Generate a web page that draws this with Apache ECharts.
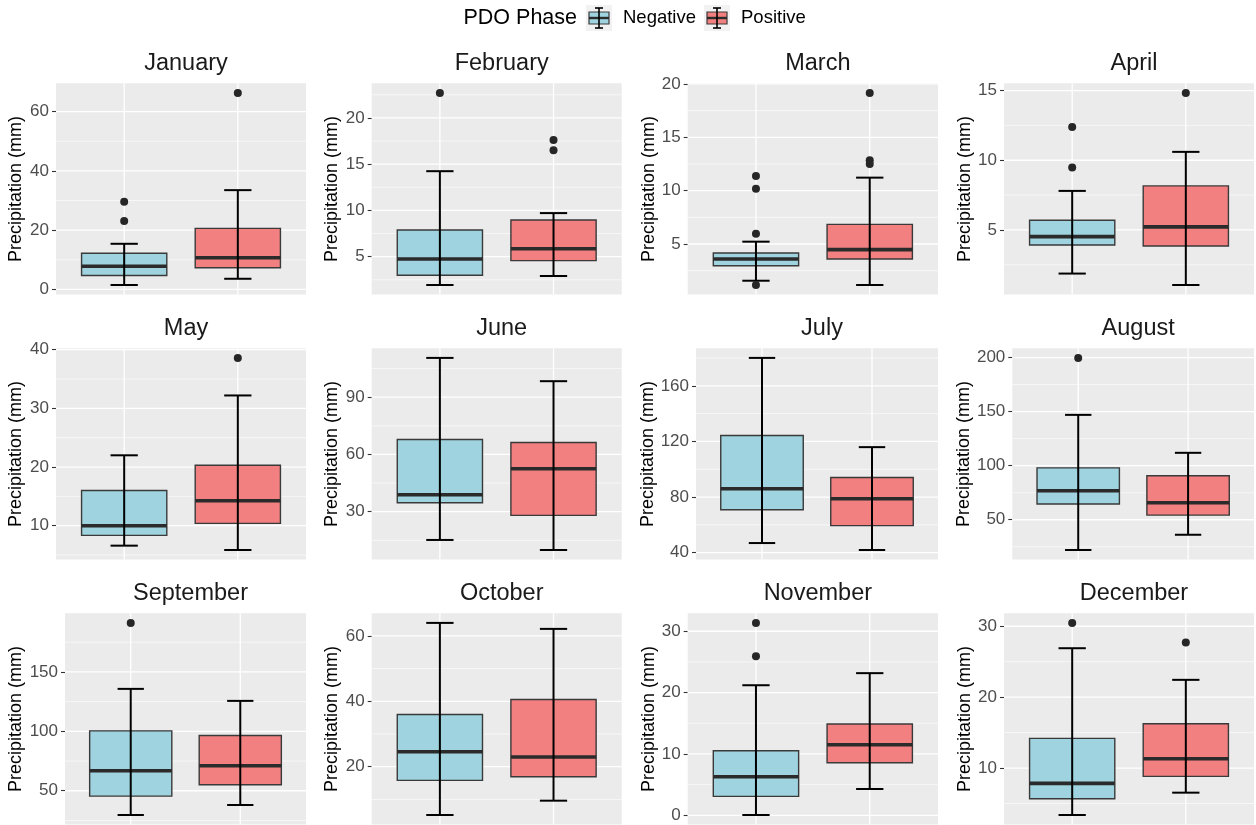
<!DOCTYPE html>
<html>
<head>
<meta charset="utf-8">
<title>Monthly precipitation by PDO phase</title>
<script src="https://cdn.jsdelivr.net/npm/echarts@6/dist/echarts.min.js"></script>
<style>
  html, body { margin: 0; padding: 0; background: #ffffff; }
  #chart { width: 1256px; height: 825px; }
</style>
</head>
<body>
<div id="chart"></div>
<script>
// ---- data -------------------------------------------------------------
const months = ['January', 'February', 'March', 'April', 'May', 'June',
                'July', 'August', 'September', 'October', 'November', 'December'];
const phases = ['Negative', 'Positive'];

// [lower whisker, Q1, median, Q3, upper whisker] per month
const negBox = [
  [1.5, 4.7, 7.8, 12.2, 15.4],
  [1.94, 2.99, 4.75, 7.88, 14.24],
  [1.56, 2.97, 3.59, 4.16, 5.22],
  [1.87, 3.92, 4.52, 5.69, 7.8],
  [6.6, 8.36, 10.0, 16.01, 22.0],
  [15.2, 34.7, 38.9, 67.85, 110.6],
  [46.9, 70.9, 86.0, 124.3, 180.1],
  [22.0, 64.5, 76.8, 98.0, 147.0],
  [29.6, 45.5, 66.8, 100.4, 135.7],
  [5.24, 15.83, 24.58, 35.98, 63.97],
  [0.05, 3.09, 6.29, 10.53, 21.2],
  [3.38, 5.68, 7.84, 14.18, 26.9]
];
const posBox = [
  [3.6, 7.3, 10.7, 20.6, 33.5],
  [2.91, 4.57, 5.86, 8.96, 9.71],
  [1.16, 3.59, 4.47, 6.84, 11.22],
  [1.05, 3.85, 5.22, 8.16, 10.6],
  [5.86, 10.4, 14.25, 20.3, 32.2],
  [9.94, 28.1, 52.5, 66.3, 98.4],
  [41.9, 59.4, 78.8, 94.1, 115.9],
  [36.1, 54.3, 65.7, 90.7, 111.9],
  [38.0, 55.0, 71.0, 96.5, 125.6],
  [9.62, 16.95, 22.95, 40.56, 62.14],
  [4.29, 8.57, 11.5, 14.87, 23.17],
  [6.53, 8.83, 11.31, 16.24, 22.44]
];
const negOutliers = [
  [29.6, 23.1], [22.7], [11.38, 10.19, 5.97, 1.16], [12.39, 9.47],
  [], [], [], [199.7], [191.2], [], [31.36, 25.94], [30.47]
];
const posOutliers = [
  [66.3], [17.6, 16.5], [19.16, 12.85, 12.5], [14.83],
  [38.6], [], [], [], [], [], [], [27.7]
];
const yTicks = [
  [0, 20, 40, 60], [5, 10, 15, 20], [5, 10, 15, 20], [5, 10, 15],
  [10, 20, 30, 40], [30, 60, 90], [40, 80, 120, 160], [50, 100, 150, 200],
  [50, 100, 150], [20, 40, 60], [0, 10, 20, 30], [10, 20, 30]
];

// ---- layout -----------------------------------------------------------
const rowTop = [83.3, 348.3, 613.3];
const panelH = 211.3;
const panelLeft = [
  [56, 371.7, 687.7, 1004],
  [56, 371.7, 696, 1012.3],
  [65, 371.7, 687.7, 1004]
];
const panelRight = [306, 621.7, 938, 1254];
const yNameRight = [25, 341, 658, 974];

const FONT = '"Liberation Sans", Arial, Helvetica, sans-serif';
const FILL = { Negative: '#9ED3DF', Positive: '#F28080' };
const PANEL_BG = '#EBEBEB';

function yRange(i) {
  const vals = negBox[i].concat(posBox[i], negOutliers[i], posOutliers[i]);
  const lo = Math.min(...vals), hi = Math.max(...vals);
  const pad = (hi - lo) * 0.05;
  return [lo - pad, hi + pad];
}

function renderGridLine(params, api) {
  const cs = params.coordSys;
  const kind = api.value(0), v = api.value(1), major = api.value(2);
  const w = major ? 1.3 : 0.6;
  if (kind === 0) {
    const y = api.coord([1, v])[1];
    return { type: 'line', silent: true,
      shape: { x1: cs.x, y1: y, x2: cs.x + cs.width, y2: y },
      style: { stroke: '#FFFFFF', lineWidth: w } };
  }
  const x = api.coord([v, api.value(3)])[0];
  return { type: 'line', silent: true,
    shape: { x1: x, y1: cs.y, x2: x, y2: cs.y + cs.height },
    style: { stroke: '#FFFFFF', lineWidth: w } };
}

function renderBox(params, api) {
  const x = api.value(0);
  const fill = x === 1 ? FILL.Negative : FILL.Positive;
  const lo = api.coord([x, api.value(1)]);
  const q1 = api.coord([x, api.value(2)]);
  const md = api.coord([x, api.value(3)]);
  const q3 = api.coord([x, api.value(4)]);
  const hi = api.coord([x, api.value(5)]);
  const bw = api.size([0.75, 0])[0];
  const cw = api.size([0.24, 0])[0];
  const cx = lo[0];
  return {
    type: 'group',
    children: [
      { type: 'rect', shape: { x: cx - bw / 2, y: q3[1], width: bw, height: q1[1] - q3[1] },
        style: { fill: fill, stroke: '#3A3A3A', lineWidth: 1.4 } },
      { type: 'line', shape: { x1: cx - bw / 2, y1: md[1], x2: cx + bw / 2, y2: md[1] },
        style: { stroke: '#2B2B2B', lineWidth: 3.6 } },
      { type: 'line', shape: { x1: cx, y1: hi[1], x2: cx, y2: lo[1] },
        style: { stroke: '#000000', lineWidth: 2 } },
      { type: 'line', shape: { x1: cx - cw / 2, y1: hi[1], x2: cx + cw / 2, y2: hi[1] },
        style: { stroke: '#000000', lineWidth: 2 } },
      { type: 'line', shape: { x1: cx - cw / 2, y1: lo[1], x2: cx + cw / 2, y2: lo[1] },
        style: { stroke: '#000000', lineWidth: 2 } }
    ]
  };
}

const grids = [], xAxes = [], yAxes = [], series = [], titles = [];

months.forEach((m, i) => {
  const r = Math.floor(i / 4), c = i % 4;
  const left = panelLeft[r][c], right = panelRight[c];
  const [ymin, ymax] = yRange(i);
  const ticks = yTicks[i];
  const step = ticks.length > 1 ? ticks[1] - ticks[0] : 10;

  grids.push({
    left: left, top: rowTop[r], width: right - left, height: panelH,
    show: true, backgroundColor: PANEL_BG, borderWidth: 0, containLabel: false
  });

  xAxes.push({
    gridIndex: i, type: 'value', min: 0.4, max: 2.6,
    axisLine: { show: false }, axisTick: { show: false },
    axisLabel: { show: false }, splitLine: { show: false }
  });

  yAxes.push({
    gridIndex: i, type: 'value', min: ymin, max: ymax,
    name: 'Precipitation (mm)', nameLocation: 'middle',
    nameGap: left - yNameRight[c], nameRotate: 90,
    nameTextStyle: { fontFamily: FONT, fontSize: 18, color: '#000000' },
    axisLine: { show: false },
    axisTick: { show: true, length: 4, customValues: ticks,
                lineStyle: { color: '#333333', width: 1.1 } },
    axisLabel: { show: true, customValues: ticks, margin: 7,
                 fontFamily: FONT, fontSize: 17, color: '#4D4D4D',
                 formatter: v => String(v) },
    splitLine: { show: false }, minorSplitLine: { show: false }
  });

  // white panel grid: majors, minors (half-steps) and category verticals
  const gl = [];
  ticks.forEach(t => gl.push([0, t, 1, 0]));
  const minors = [];
  for (let t = ticks[0] - step / 2; t <= ymax; t += step) {
    if (t >= ymin && t <= ymax) minors.push(t);
  }
  minors.forEach(t => gl.push([0, t, 0, 0]));
  [1, 2].forEach(x => gl.push([1, x, 1, (ymin + ymax) / 2]));

  series.push({
    type: 'custom', xAxisIndex: i, yAxisIndex: i, z: 1, silent: true,
    renderItem: renderGridLine, data: gl
  });

  series.push({
    type: 'custom', name: m, xAxisIndex: i, yAxisIndex: i, z: 2,
    renderItem: renderBox,
    data: [[1].concat(negBox[i]), [2].concat(posBox[i])]
  });

  const pts = negOutliers[i].map(v => [1, v]).concat(posOutliers[i].map(v => [2, v]));
  series.push({
    type: 'scatter', xAxisIndex: i, yAxisIndex: i, z: 3,
    symbol: 'circle', symbolSize: 8,
    itemStyle: { color: '#262626', opacity: 1 },
    data: pts
  });

  titles.push({
    text: m, left: (left + right) / 2, top: rowTop[r] - 37, textAlign: 'center',
    textStyle: { fontFamily: FONT, fontSize: 23.5, fontWeight: 'normal', color: '#1A1A1A' }
  });
});

// ---- legend -----------------------------------------------------------
function legendKey(x, y, fill) {
  return [
    { type: 'rect', shape: { x: x, y: y, width: 26, height: 26 }, style: { fill: '#F2F2F2' } },
    { type: 'rect', shape: { x: x + 3, y: y + 7, width: 20, height: 12 },
      style: { fill: fill, stroke: '#3A3A3A', lineWidth: 1.2 } },
    { type: 'line', shape: { x1: x + 3, y1: y + 13, x2: x + 23, y2: y + 13 },
      style: { stroke: '#2B2B2B', lineWidth: 2.4 } },
    { type: 'line', shape: { x1: x + 13, y1: y + 3, x2: x + 13, y2: y + 23 },
      style: { stroke: '#000000', lineWidth: 1.6 } },
    { type: 'line', shape: { x1: x + 9, y1: y + 3, x2: x + 17, y2: y + 3 },
      style: { stroke: '#000000', lineWidth: 1.6 } },
    { type: 'line', shape: { x1: x + 9, y1: y + 23, x2: x + 17, y2: y + 23 },
      style: { stroke: '#000000', lineWidth: 1.6 } }
  ];
}

const legendY = 5;
const LEGEND_FS = 18.5;
const LEGEND_TITLE_FS = 21.5;
const legendEls = [
  { type: 'text', x: 577, y: legendY + 13,
    style: { text: 'PDO Phase', fontFamily: FONT, fontSize: LEGEND_TITLE_FS, fill: '#000000',
             align: 'right', verticalAlign: 'middle' } }
].concat(
  legendKey(586, legendY, FILL.Negative),
  [{ type: 'text', x: 623, y: legendY + 13,
     style: { text: phases[0], fontFamily: FONT, fontSize: LEGEND_FS, fill: '#000000',
              align: 'left', verticalAlign: 'middle' } }],
  legendKey(704, legendY, FILL.Positive),
  [{ type: 'text', x: 741, y: legendY + 13,
     style: { text: phases[1], fontFamily: FONT, fontSize: LEGEND_FS, fill: '#000000',
              align: 'left', verticalAlign: 'middle' } }]
);

const chart = echarts.init(document.getElementById('chart'), null, { renderer: 'canvas' });
chart.setOption({
  backgroundColor: '#FFFFFF',
  animation: false,
  title: titles,
  grid: grids,
  xAxis: xAxes,
  yAxis: yAxes,
  series: series,
  graphic: { elements: legendEls }
});
</script>
</body>
</html>
